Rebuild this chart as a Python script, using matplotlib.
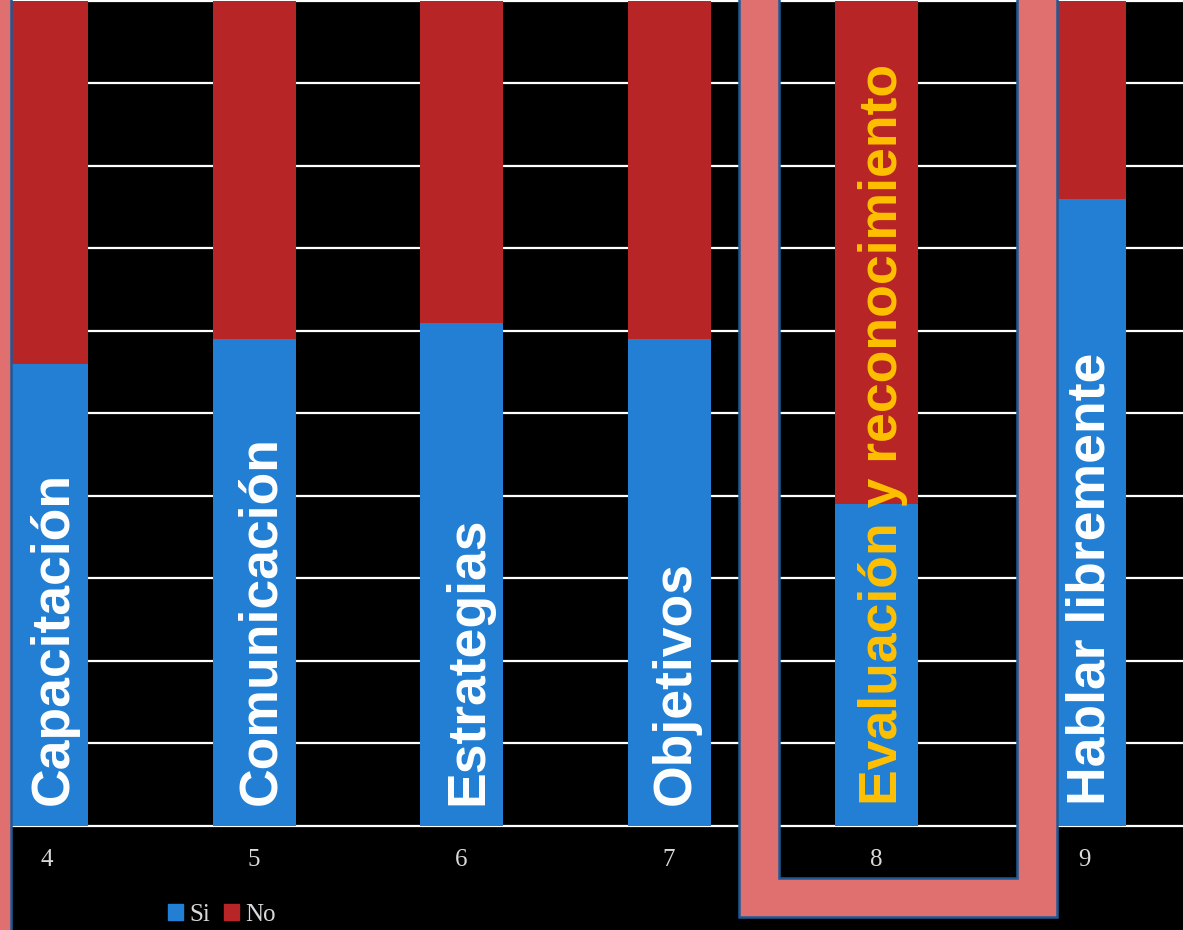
import matplotlib
matplotlib.use("Agg")
import matplotlib.pyplot as plt
from matplotlib.patches import Polygon, Rectangle, Patch

# Data
categories = ["4", "5", "6", "7", "8", "9"]
labels = ["Capacitación", "Comunicación", "Estrategias", "Objetivos",
          "Evaluación y reconocimiento", "Hablar libremente"]
si_vals = [56, 59, 61, 59, 39, 76]
no_vals = [44, 41, 39, 41, 61, 24]
highlight = "8"

BLUE = "#237fd3"
RED = "#b72527"
PINK = "#e07070"
EDGE = "#1f5a96"
YELLOW = "#ffc000"

W, H = 1183, 930
fig = plt.figure(figsize=(W / 100, H / 100), dpi=100, facecolor="black")
ax = fig.add_axes([0, 0, 1, 1])
ax.set_facecolor("black")

x = list(range(len(categories)))
ax.bar(x, si_vals, width=0.4, color=BLUE, zorder=2)
ax.bar(x, no_vals, width=0.4, bottom=si_vals, color=RED, zorder=2)

ax.set_xlim(-0.2241, 5.4771)
ax.set_ylim(-12.606, 100.12)
ax.set_yticks(range(0, 101, 10))
ax.set_xticks([])
ax.grid(axis="y", color="white", linewidth=1.6)
ax.set_axisbelow(True)
ax.tick_params(left=False, labelleft=False)
for s in ax.spines.values():
    s.set_visible(False)

# labels inside bars and category labels under them
for i, (cat, lab) in enumerate(zip(categories, labels)):
    col = YELLOW if cat == highlight else "white"
    ax.text(i + 0.1, 2.5, lab, rotation=90, rotation_mode="anchor",
            ha="left", va="baseline", color=col, fontsize=38.5,
            fontweight="bold", family="Liberation Sans", zorder=3)
    ax.text(i, -4.1, cat, ha="center", va="center", color="#d9d9d9",
            fontsize=18, family="Liberation Serif")

# highlight frame (figure pixel coords)
def fp(px, py):
    return (px / W, 1 - py / H)

frame = [fp(739, -20), fp(739, 917), fp(1057, 917), fp(1057, -20),
         fp(1017, -20), fp(1017, 878), fp(779, 878), fp(779, -20)]
fig.patches.append(Polygon(frame, closed=True, facecolor=PINK, edgecolor=EDGE,
                           linewidth=1.8, transform=fig.transFigure, zorder=5))
fig.patches.append(Rectangle(fp(-20, 950), 31 / W, 980 / H, facecolor=PINK,
                             edgecolor=EDGE, linewidth=1.8,
                             transform=fig.transFigure, zorder=5))

handles = [Patch(color=BLUE, label="Si"), Patch(color=RED, label="No")]
fig.legend(handles=handles, loc="center", bbox_to_anchor=fp(222, 915),
           ncol=2, frameon=False, handlelength=0.6, handleheight=0.6,
           handletextpad=0.25, columnspacing=0.55, labelcolor="#d9d9d9",
           prop={"family": "Liberation Serif", "size": 18})

fig.savefig("out.png", dpi=100, facecolor="black")
